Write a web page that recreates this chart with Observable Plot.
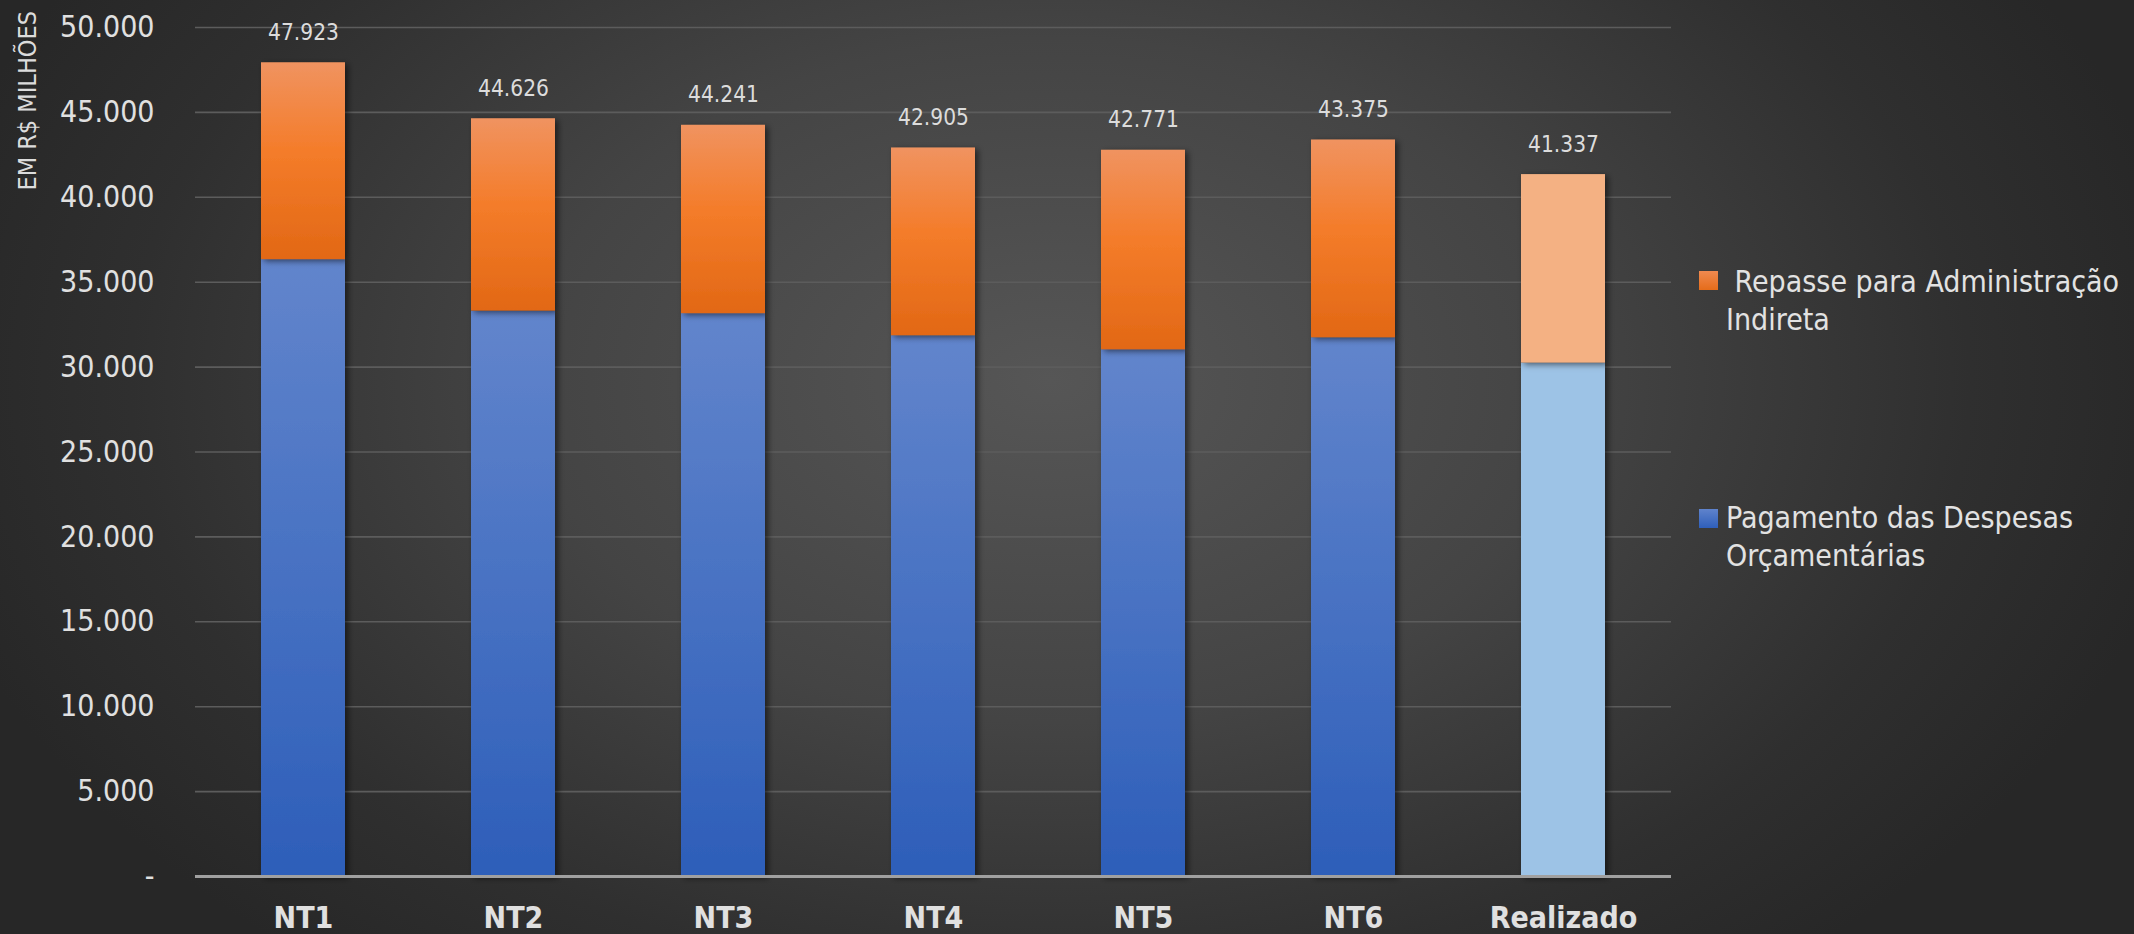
<!DOCTYPE html>
<html><head><meta charset="utf-8">
<script src="https://cdn.jsdelivr.net/npm/d3@7"></script>
<script src="https://cdn.jsdelivr.net/npm/@observablehq/plot@0.6"></script>
<style>
html,body{margin:0;padding:0;width:2134px;height:934px;overflow:hidden;background:#2b2b2b;}
#wrap{position:relative;width:2134px;height:934px;
  background: radial-gradient(ellipse 1150px 760px at 1050px 380px, #565656 0%, #444 45%, #2f2f2f 80%, #272727 100%);
  font-family:"DejaVu Sans Condensed","DejaVu Sans",sans-serif;}
#chart svg{position:absolute;left:0;top:0;background:transparent;}
.leg{position:absolute;color:#e2e2e2;font-size:30px;line-height:38px;white-space:nowrap;}
.sw{position:absolute;width:19px;height:19px;}
</style></head>
<body><div id="wrap"><div id="chart"></div>
<div class="sw" style="left:1699px;top:271px;background:linear-gradient(#f08a50,#e56c1a);"></div>
<div class="leg" style="left:1726px;top:263px;">&nbsp;Repasse para Administração<br>Indireta</div>
<div class="sw" style="left:1699px;top:509px;background:linear-gradient(#5f83cc,#2f5fba);"></div>
<div class="leg" style="left:1726px;top:499px;">Pagamento das Despesas<br>Orçamentárias</div>
</div>
<script>
const categories = ["NT1","NT2","NT3","NT4","NT5","NT6","Realizado"];
const totals     = [47923, 44626, 44241, 42905, 42771, 43375, 41337];
const pagamento  = [36330, 33300, 33150, 31850, 31020, 31730, 30240];
const repasse    = [11593, 11326, 11091, 11055, 11751, 11645, 11097];
const seriesNames = ["Pagamento das Despesas Orçamentárias", "Repasse para Administração Indireta"];
const yTicks = [0,5000,10000,15000,20000,25000,30000,35000,40000,45000,50000];

const rows = [];
categories.forEach((c,i)=>{
  rows.push({cat:c, serie:seriesNames[0], value:pagamento[i], realizado: c==="Realizado"});
  rows.push({cat:c, serie:seriesNames[1], value:repasse[i], realizado: c==="Realizado"});
});
const fillOf = d => d.serie===seriesNames[0]
  ? (d.realizado ? "#9dc3e6" : "url(#gBlue)")
  : (d.realizado ? "#f4b183" : "url(#gOrange)");
const totalsData = categories.map((c,i)=>({cat:c,total:totals[i]}));
const fmt = v => v===0 ? "-" : d3.format(",")(v).replace(/,/g,".");
const font = '"DejaVu Sans Condensed","DejaVu Sans",sans-serif';

const plot = Plot.plot({
  width:2134, height:934,
  marginLeft:195, marginRight:463, marginTop:27, marginBottom:58,
  style:{background:"transparent", color:"#e0e0e0", fontFamily:font, overflow:"visible"},
  x:{domain:categories, paddingInner:0.6, paddingOuter:0.3, label:null},
  y:{domain:[0,50000], label:null},
  color:{type:"identity"},
  marks:[
    Plot.gridY(yTicks,{stroke:"#5c5c5c", strokeOpacity:1, strokeWidth:1.6}),
    Plot.axisY(yTicks,{tickSize:0, tickPadding:41, tickFormat:fmt, fontSize:30, fill:"#e0e0e0", label:null}),
    Plot.axisX({tickSize:0, tickPadding:30, fontSize:30, fontWeight:"bold", fill:"#e0e0e0", label:null}),
    Plot.barY(rows, Plot.stackY({x:"cat", y:"value", z:"serie", fill:fillOf, order:seriesNames, className:"bars"})),
    Plot.ruleY([0],{stroke:"#a0a0a0", strokeWidth:3}),
    Plot.text(totalsData,{x:"cat", y:"total", text:d=>fmt(d.total), dy:-30, fontSize:22.5, fill:"#dcdcdc"})
  ]
});
document.getElementById("chart").appendChild(plot);

const svg = d3.select(plot);
const defs = svg.insert("defs",":first-child");
const gb = defs.append("linearGradient").attr("id","gBlue").attr("x1",0).attr("y1",0).attr("x2",0).attr("y2",1);
gb.append("stop").attr("offset","0%").attr("stop-color","#6285cc");
gb.append("stop").attr("offset","100%").attr("stop-color","#2d5eb9");
const go = defs.append("linearGradient").attr("id","gOrange").attr("x1",0).attr("y1",0).attr("x2",0).attr("y2",1);
go.append("stop").attr("offset","0%").attr("stop-color","#f09360");
go.append("stop").attr("offset","45%").attr("stop-color","#f47c2a");
go.append("stop").attr("offset","100%").attr("stop-color","#e26815");
const f = defs.append("filter").attr("id","shadow").attr("x","-20%").attr("y","-5%").attr("width","150%").attr("height","115%");
f.append("feDropShadow").attr("dx",3).attr("dy",2).attr("stdDeviation",3).attr("flood-color","#000").attr("flood-opacity",0.55);
svg.selectAll("g.bars rect").attr("filter","url(#shadow)");

// y-axis title
svg.append("text").attr("transform","translate(29,11) rotate(-90)")
  .attr("text-anchor","end").attr("dominant-baseline","middle")
  .attr("font-size",25).attr("fill","#dcdcdc").attr("font-family",font)
  .text("EM R$ MILHÕES");
</script></body></html>
